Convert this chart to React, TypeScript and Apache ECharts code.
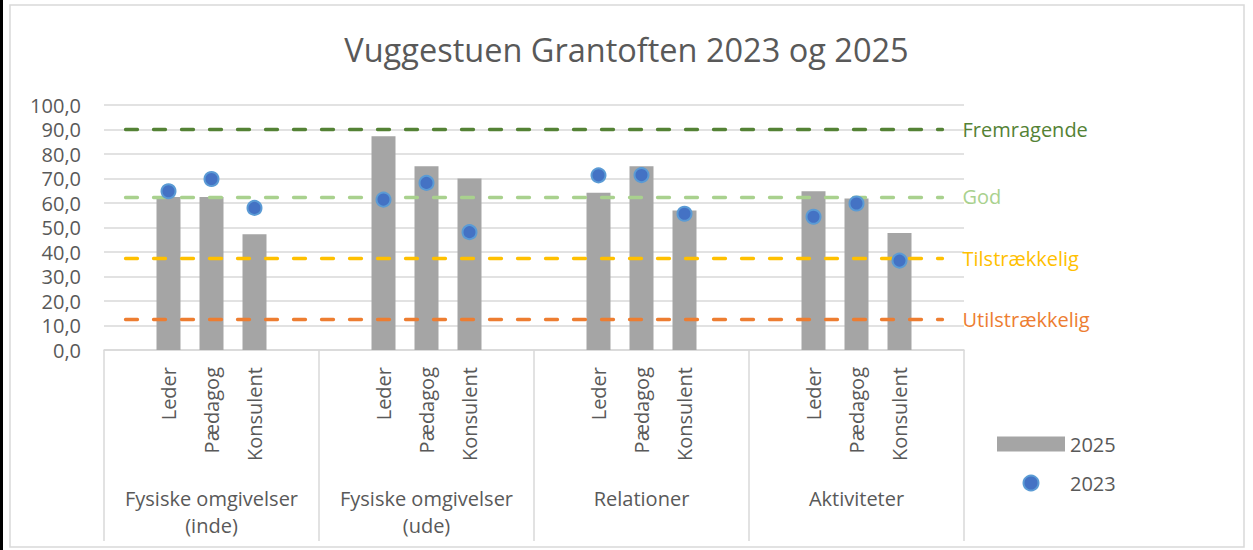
import React, { useEffect, useRef } from "react";
import * as echarts from "echarts";

const titleText = "Vuggestuen Grantoften 2023 og 2025";
const groups = ["Fysiske omgivelser\n(inde)", "Fysiske omgivelser\n(ude)", "Relationer", "Aktiviteter"];
const roles = ["Leder", "Pædagog", "Konsulent"];
const values2025 = [62.5, 62.5, 47.2, 87.2, 75.0, 70.0, 64.2, 75.0, 56.9, 64.8, 61.8, 47.8];
const values2023 = [64.8, 69.8, 58.0, 61.4, 68.2, 48.1, 71.3, 71.4, 55.6, 54.4, 59.8, 36.5];
const thresholdNames = ["Fremragende", "God", "Tilstrækkelig", "Utilstrækkelig"];
const thresholdValues = [90, 62.5, 37.5, 12.5];
const thresholdColors = ["#548235", "#A9D18E", "#FFC000", "#ED7D31"];
const yTicks = [0, 10, 20, 30, 40, 50, 60, 70, 80, 90, 100];

const FONT = "Open Sans";
const TEXT = "#595959";
const GRID = "#d9d9d9";

// Each group: blank slot, three roles, blank slot (as in the source sheet)
function buildSlots<T>(perRole: (gi: number, ri: number) => T, blank: T): T[] {
  const out: T[] = [];
  groups.forEach((_, gi) => {
    out.push(blank);
    roles.forEach((_, ri) => out.push(perRole(gi, ri)));
    out.push(blank);
  });
  return out;
}

const slotCategories = buildSlots((_, ri) => roles[ri], "");
const bar2025 = buildSlots<number | null>((gi, ri) => values2025[gi * 3 + ri], null);
const dot2023 = buildSlots<number | null>((gi, ri) => values2023[gi * 3 + ri], null);

export default function App() {
  const ref = useRef<HTMLDivElement>(null);
  useEffect(() => {
    if (!ref.current) return;
    const chart = echarts.init(ref.current, undefined, { renderer: "svg" });
    const lastIdx = slotCategories.length - 1;
    chart.setOption({
      animation: false,
      textStyle: { fontFamily: FONT },
      title: {
        text: titleText,
        left: "center",
        top: 28,
        textStyle: { fontFamily: FONT, fontSize: 32.5, fontWeight: "normal", color: TEXT },
      },
      graphic: [
        { type: "rect", shape: { x: 0, y: 0, width: 3, height: 550 }, style: { fill: "#000" }, silent: true },
        {
          type: "rect",
          shape: { x: 10, y: 5, width: 1234, height: 542 },
          style: { fill: "none", stroke: GRID, lineWidth: 1.5 },
          silent: true,
        },
      ],
      legend: {
        orient: "vertical",
        left: 992,
        top: 429,
        itemWidth: 68,
        itemHeight: 15,
        itemGap: 19,
        textStyle: { fontFamily: FONT, fontSize: 20, color: TEXT },
        data: [{ name: "2025", icon: "rect" }, { name: "2023", icon: "circle" }],
      },
      grid: { left: 104, right: 289, top: 105, bottom: 200, containLabel: false },
      xAxis: [
        {
          type: "category",
          data: slotCategories,
          boundaryGap: true,
          axisLine: { show: true, lineStyle: { color: GRID, width: 1.5 } },
          axisTick: { show: false },
          axisLabel: {
            interval: 0,
            rotate: 90,
            margin: 17,
            fontFamily: FONT,
            fontSize: 20,
            color: TEXT,
          },
        },
        {
          type: "category",
          data: groups,
          position: "bottom",
          boundaryGap: true,
          axisLine: { show: false },
          axisTick: { show: true, length: 191, lineStyle: { color: GRID, width: 1.5 } },
          axisLabel: {
            interval: 0,
            margin: 135,
            fontFamily: FONT,
            fontSize: 20,
            lineHeight: 27,
            color: TEXT,
          },
        },
      ],
      yAxis: {
        type: "value",
        min: 0,
        max: 100,
        interval: 10,
        axisLine: { show: false },
        axisTick: { show: false },
        splitLine: { lineStyle: { color: GRID, width: 1.5 } },
        axisLabel: {
          margin: 23,
          fontFamily: FONT,
          fontSize: 20,
          color: TEXT,
          formatter: (v: number) => (yTicks.includes(v) ? v.toFixed(1).replace(".", ",") : ""),
        },
      },
      series: [
        {
          name: "2025",
          type: "bar",
          xAxisIndex: 0,
          data: bar2025,
          barWidth: 24,
          itemStyle: { color: "#A5A5A5" },
          z: 2,
          markLine: {
            silent: true,
            symbol: ["none", "none"],
            z: 5,
            data: thresholdValues.map((v, i) => [
              {
                coord: [0, v],
                name: thresholdNames[i],
                lineStyle: { color: thresholdColors[i], width: 3.3, type: [12, 16], cap: "round" },
                label: {
                  show: true,
                  position: "end",
                  distance: 20,
                  formatter: thresholdNames[i],
                  color: thresholdColors[i],
                  fontFamily: FONT,
                  fontSize: 20,
                },
              },
              { coord: [lastIdx, v] },
            ]),
          },
        },
        {
          name: "2023",
          type: "scatter",
          xAxisIndex: 0,
          data: dot2023,
          symbol: "circle",
          symbolSize: 14,
          itemStyle: { color: "#4472C4", borderColor: "#5B9BD5", borderWidth: 2, opacity: 1 },
          z: 6,
        },
      ],
    });
    return () => chart.dispose();
  }, []);
  return (
    <div
      ref={ref}
      style={{ position: "fixed", left: 0, top: 0, width: 1253, height: 550, background: "#fff" }}
    />
  );
}
